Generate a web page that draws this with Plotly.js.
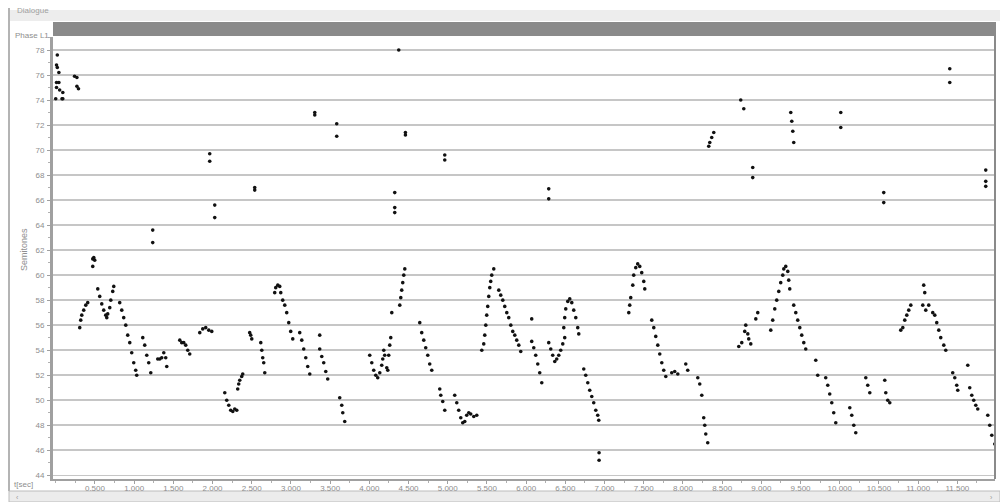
<!DOCTYPE html>
<html>
<head>
<meta charset="utf-8">
<script src="https://cdn.plot.ly/plotly-3.0.1.min.js"></script>
<style>html,body{margin:0;padding:0;background:#fff;}#chart{width:1000px;height:502px;}</style>
</head>
<body>
<div id="chart"></div>
<script>
// Time (seconds) of each pitch sample
const timeSec = [
  0.00,0.01,0.01,0.01,0.02,0.02,0.04,0.04,0.05,0.08,0.09,0.09,0.24,0.27,0.27,0.29,
  0.306,0.319,0.332,0.357,0.383,0.408,
  0.472,0.485,0.497,0.472,
  0.536,0.561,0.587,0.612,0.638,0.651,0.663,0.689,0.702,0.727,0.740,
  0.816,0.842,0.867,0.893,0.918,0.944,0.969,0.995,1.020,1.033,
  1.110,1.135,1.161,1.186,1.212,
  1.237,1.237,
  1.301,1.327,1.352,1.378,1.403,1.416,
  1.582,1.607,1.633,1.658,1.684,1.709,
  1.837,1.875,1.913,1.952,1.990,
  1.964,1.964,2.028,2.028,
  2.156,2.181,2.207,2.232,2.258,2.283,2.309,
  2.321,2.334,2.347,2.372,2.385,
  2.474,2.487,2.500,
  2.538,2.538,
  2.615,2.628,2.640,2.653,2.666,
  2.793,2.806,2.832,2.857,2.870,2.895,2.921,2.946,2.972,2.997,3.023,
  3.112,3.138,3.163,3.189,3.214,3.240,
  3.304,3.304,
  3.367,
  3.367,3.393,3.418,3.444,3.469,
  3.584,3.584,
  3.622,3.648,3.661,3.686,
  4.005,4.031,4.056,4.082,4.107,
  4.133,4.158,4.171,4.184,4.196,4.222,4.235,4.247,4.260,4.273,4.286,
  4.324,4.324,4.324,4.375,
  4.388,4.401,4.413,4.426,4.439,4.452,
  4.460,4.460,
  4.643,4.668,4.694,4.719,4.745,4.770,4.796,
  4.898,4.911,4.936,4.962,
  4.962,4.962,
  5.089,5.115,5.140,5.166,5.191,5.217,5.242,5.268,5.293,5.332,5.370,
  5.434,5.459,5.472,5.485,5.497,5.510,5.523,5.536,5.548,5.561,5.587,
  5.651,5.676,5.702,5.727,5.753,5.778,5.804,5.829,5.855,5.880,5.906,5.931,
  6.071,
  6.071,6.097,6.122,6.148,6.173,6.199,
  6.288,6.288,
  6.288,6.314,6.339,6.365,6.390,6.416,6.441,6.467,6.492,
  6.480,6.492,6.505,6.531,6.556,6.582,6.607,6.633,6.658,6.671,
  6.735,6.760,6.786,6.811,6.837,6.862,6.888,6.913,6.926,
  6.930,6.930,
  7.309,7.321,7.334,7.360,7.372,7.398,7.423,7.449,7.474,7.500,7.513,
  7.602,7.628,7.653,7.679,7.704,7.730,7.755,7.781,
  7.857,7.895,7.934,
  8.036,8.061,
  8.189,8.214,8.240,8.265,8.278,8.291,8.316,
  8.329,8.342,8.367,8.393,
  8.712,8.750,8.788,8.801,8.827,8.839,8.865,8.929,8.954,
  8.737,8.776,
  8.890,8.890,
  9.120,9.145,9.171,9.196,9.222,9.247,9.273,9.286,9.311,9.337,9.349,9.362,
  9.375,9.388,9.401,9.413,
  9.413,9.439,9.464,9.490,9.515,9.541,9.566,
  9.694,9.719,
  9.821,9.847,9.872,9.898,9.923,9.949,
  10.013,10.013,
  10.128,10.153,10.179,10.204,
  10.332,10.357,10.383,
  10.561,10.561,
  10.574,10.587,10.612,10.638,
  10.778,10.804,10.829,10.855,10.880,10.906,
  11.059,11.071,11.084,11.097,11.135,
  11.186,11.212,11.237,11.263,11.288,11.327,11.352,
  11.403,11.403,
  11.441,11.467,11.492,11.505,
  11.633,11.658,11.684,11.709,11.735,11.760,
  11.862,11.862,11.862,
  11.888,11.913,11.939,11.977
];
// Pitch in semitones for each sample
const semitones = [
  74.1,76.8,75.4,75.0,77.6,76.6,76.2,75.4,74.8,74.1,74.6,74.1,75.9,75.8,75.1,74.9,
  55.8,56.4,56.8,57.2,57.6,57.8,
  61.3,61.4,61.2,60.7,
  58.9,58.3,57.7,57.2,56.8,56.6,56.9,57.4,58.0,58.7,59.1,
  57.8,57.2,56.6,56.0,55.2,54.6,53.8,53.0,52.4,52.0,
  55.0,54.4,53.6,53.0,52.2,
  63.6,62.6,
  53.3,53.3,53.4,53.8,53.4,52.7,
  54.8,54.6,54.6,54.4,54.0,53.7,
  55.4,55.7,55.8,55.6,55.5,
  69.7,69.1,65.6,64.6,
  50.6,50.0,49.6,49.2,49.1,49.3,49.2,
  50.9,51.3,51.6,51.9,52.1,
  55.4,55.2,54.9,
  67.0,66.8,
  54.6,54.0,53.4,53.0,52.2,
  58.6,59.0,59.2,59.1,58.6,58.0,57.6,57.0,56.2,55.5,54.9,
  55.4,54.8,54.1,53.4,52.7,52.1,
  73.0,72.8,
  55.2,
  54.1,53.5,53.0,52.3,51.7,
  72.1,71.1,
  50.2,49.6,49.0,48.3,
  53.6,53.0,52.4,52.0,51.8,
  52.2,52.8,53.3,54.0,53.6,52.6,52.4,53.6,54.4,55.0,57.0,
  66.6,65.4,65.0,78.0,
  57.6,58.2,58.8,59.4,60.0,60.5,
  71.4,71.2,
  56.2,55.4,54.8,54.2,53.6,52.9,52.4,
  50.9,50.4,49.9,49.2,
  69.6,69.2,
  50.4,49.8,49.2,48.6,48.2,48.3,48.8,49.0,48.9,48.7,48.8,
  54.0,54.5,55.2,56.0,56.8,57.5,58.3,59.0,59.5,60.0,60.5,
  58.8,58.4,58.0,57.5,57.0,56.6,56.0,55.5,55.2,54.8,54.4,53.9,
  56.5,
  54.7,54.2,53.6,52.9,52.2,51.4,
  66.9,66.1,
  54.6,54.1,53.6,53.1,53.3,53.6,54.0,54.5,55.0,
  55.8,56.6,57.3,57.9,58.1,57.8,57.2,56.6,55.8,55.3,
  52.5,52.0,51.4,50.8,50.3,49.8,49.2,48.8,48.4,
  45.8,45.2,
  57.0,57.6,58.2,59.2,60.0,60.6,60.9,60.7,60.2,59.5,58.9,
  56.4,55.8,55.1,54.4,53.7,53.0,52.4,51.9,
  52.2,52.3,52.1,
  52.9,52.4,
  51.8,51.3,50.4,48.6,48.0,47.3,46.6,
  70.3,70.6,71.0,71.4,
  54.3,54.6,55.5,56.0,55.3,54.9,54.5,56.5,57.0,
  74.0,73.3,
  68.6,67.8,
  55.6,56.4,57.3,58.0,58.7,59.4,60.0,60.5,60.7,60.3,59.6,58.9,
  73.0,72.3,71.5,70.6,
  57.6,57.0,56.4,55.8,55.2,54.6,54.1,
  53.2,52.0,
  51.8,51.2,50.5,49.8,49.0,48.2,
  73.0,71.8,
  49.4,48.8,48.0,47.4,
  51.8,51.2,50.6,
  66.6,65.8,
  51.6,50.6,50.0,49.8,
  55.6,55.8,56.4,56.8,57.2,57.6,
  57.6,59.2,58.6,57.2,57.6,
  57.0,56.8,56.2,55.6,55.0,54.4,54.0,
  76.5,75.4,
  52.2,51.8,51.2,50.8,
  52.8,51.0,50.4,50.0,49.6,49.3,
  68.4,67.5,67.1,
  48.8,48.0,47.2,46.5
];
const xTickVals = [0.5,1,1.5,2,2.5,3,3.5,4,4.5,5,5.5,6,6.5,7,7.5,8,8.5,9,9.5,10,10.5,11,11.5];
const xTickText = ["0.500","1.000","1.500","2.000","2.500","3.000","3.500","4.000","4.500","5.000","5.500","6.000","6.500","7.000","7.500","8.000","8.500","9.000","9.500","10.000","10.500","11.000","11.500"];

const grey = '#8e8e8e';
const trace = {
  x: timeSec, y: semitones, type: 'scatter', mode: 'markers',
  marker: {color: '#111', size: 3.6}, hoverinfo: 'x+y', showlegend: false
};
const W = 942, H = 442; // plot area size for paper conversion
const px = v => (v - 53) / W;
const py = v => (479 - v) / H;
const layout = {
  width: 1000, height: 502,
  margin: {l: 53, r: 5, t: 37, b: 23, pad: 0},
  paper_bgcolor: '#ffffff', plot_bgcolor: '#ffffff',
  font: {family: 'Liberation Sans, Arial, sans-serif', size: 8, color: grey},
  xaxis: {
    range: [-0.035, 11.98], tickvals: xTickVals, ticktext: xTickText,
    showgrid: false, zeroline: false, showline: true, linecolor: '#a0a0a0', linewidth: 2,
    ticks: 'outside', ticklen: 3, tickcolor: '#a0a0a0', ticklabelstandoff: -3,
    minor: {dtick: 0.25, tick0: 0, ticks: 'outside', ticklen: 2, tickcolor: '#b0b0b0'},
    tickfont: {size: 8, color: grey}
  },
  yaxis: {
    range: [43.7, 79.04], dtick: 2, tick0: 44,
    showgrid: true, gridcolor: '#c6c6c6', gridwidth: 1.5, zeroline: false,
    showline: true, linecolor: '#a0a0a0', linewidth: 3, mirror: false,
    ticks: 'outside', ticklen: 3, tickcolor: '#a0a0a0', ticklabelstandoff: 1,
    minor: {dtick: 1, ticks: 'outside', ticklen: 2, tickcolor: '#b0b0b0', showgrid: false},
    tickfont: {size: 8, color: grey}
  },
  shapes: [
    {type: 'rect', xref: 'paper', yref: 'paper', x0: px(9), x1: px(1000), y0: py(21), y1: py(10), fillcolor: '#ededed', line: {width: 0}, layer: 'below'},
    {type: 'rect', xref: 'paper', yref: 'paper', x0: 0, x1: px(995), y0: py(36), y1: py(22), fillcolor: '#8a8a8a', line: {width: 0}, layer: 'below'},
    {type: 'line', xref: 'paper', yref: 'paper', x0: px(9), x1: px(9), y0: py(491), y1: py(8), line: {color: '#b4b4b4', width: 2}, layer: 'below'},
    {type: 'rect', xref: 'paper', yref: 'paper', x0: px(9), x1: px(1000), y0: py(502), y1: py(491), fillcolor: '#ececec', line: {color: '#bcbcbc', width: 1}, layer: 'below'},
    {type: 'line', xref: 'paper', yref: 'paper', x0: px(995), x1: px(995), y0: 0, y1: py(22), line: {color: '#8a8a8a', width: 2}}
  ],
  annotations: [
    {text: 'Semitones', xref: 'paper', yref: 'paper', x: px(17), y: py(250), textangle: -90, showarrow: false, font: {size: 9, color: grey}},
    {text: 'Phase L1', xref: 'paper', yref: 'paper', x: px(51), y: py(29), xanchor: 'right', showarrow: false, font: {size: 8, color: grey}},
    {text: 'Dialogue', xref: 'paper', yref: 'paper', x: px(51), y: py(4), xanchor: 'right', showarrow: false, font: {size: 8, color: '#a0a0a0'}},
    {text: 't[sec]', xref: 'paper', yref: 'paper', x: px(34), y: py(484), xanchor: 'right', yanchor: 'middle', showarrow: false, borderpad: 0, font: {size: 8, color: grey}},
    {text: '‹', xref: 'paper', yref: 'paper', x: px(15), y: py(497), yanchor: 'middle', showarrow: false, borderpad: 0, font: {size: 7, color: '#999'}},
    {text: '›', xref: 'paper', yref: 'paper', x: px(994), y: py(497), yanchor: 'middle', showarrow: false, borderpad: 0, font: {size: 7, color: '#999'}}
  ]
};
Plotly.newPlot('chart', [trace], layout, {displayModeBar: false, staticPlot: true});
</script>
</body>
</html>
